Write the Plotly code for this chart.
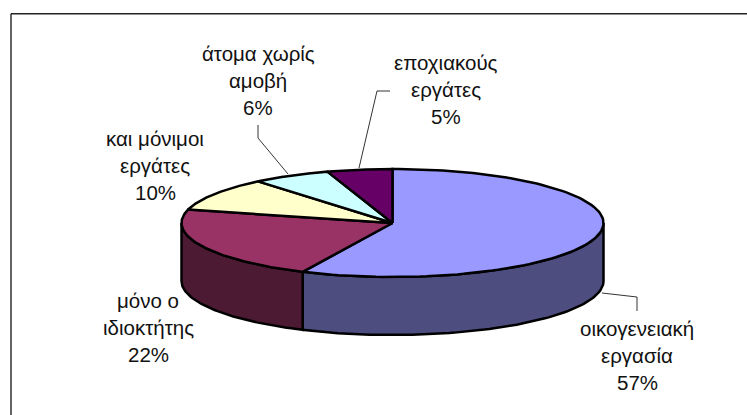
import numpy as np
import plotly.graph_objects as go

# Data
labels = [["οικογενειακή", "εργασία"], ["μόνο ο", "ιδιοκτήτης"], ["και μόνιμοι", "εργάτες"],
          ["άτομα χωρίς", "αμοβή"], ["εποχιακούς", "εργάτες"]]
values = [57, 22, 10, 6, 5]
top_colors = ["#9999FF", "#993366", "#FFFFCC", "#CCFFFF", "#660066"]
side_colors = ["#4D4D80", "#4D1A33", "#80805F", "#668080", "#330033"]

# Layout constants (pixels)
W, H = 747, 415
CX, CY, RX, RY, DEPTH = 392.5, 223, 211, 54, 58
label_x = [637, 148, 155, 258, 445.5]
label_y = [328, 300, 138, 53, 62]
LINE_GAP = 27.4
leaders = {0: ([602, 637, 637], [293, 297, 311]),
           3: ([258, 258, 288], [125, 138, 174]),
           4: ([390, 377, 359], [91, 91, 168])}

fig = go.Figure()


def ell(theta_deg, dy=0):
    t = np.radians(theta_deg)
    return CX + RX * np.sin(t), CY - RY * np.cos(t) + dy


total = sum(values)
edges = np.concatenate([[0], np.cumsum(values)]) / total * 360

# side walls (only the front half, 90..270 degrees clockwise from the top)
for i in range(len(values)):
    a, b = max(edges[i], 90), min(edges[i + 1], 270)
    if a >= b:
        continue
    th = np.linspace(a, b, 80)
    x0, y0 = ell(th)
    x1, y1 = ell(th[::-1], DEPTH)
    fig.add_trace(go.Scatter(x=np.r_[x0, x1, x0[0]], y=np.r_[y0, y1, y0[0]], mode="lines", fill="toself",
                             fillcolor=side_colors[i], line=dict(color="black", width=2.5),
                             hoverinfo="skip", showlegend=False))

# top faces
for i in range(len(values)):
    th = np.linspace(edges[i], edges[i + 1], 120)
    x0, y0 = ell(th)
    fig.add_trace(go.Scatter(x=np.r_[CX, x0, CX], y=np.r_[CY, y0, CY], mode="lines", fill="toself",
                             fillcolor=top_colors[i], line=dict(color="black", width=2.5),
                             hoverinfo="skip", showlegend=False))

# leader lines
for lx, ly in leaders.values():
    fig.add_trace(go.Scatter(x=lx, y=ly, mode="lines", line=dict(color="black", width=0.8),
                             hoverinfo="skip", showlegend=False))

# labels
annotations = []
for i, (lab, v) in enumerate(zip(labels, values)):
    lines = lab + [f"{v}%"]
    for j, t in enumerate(lines):
        annotations.append(dict(x=label_x[i], y=label_y[i] + j * LINE_GAP, text=t, showarrow=False,
                                xanchor="center", yanchor="middle",
                                font=dict(family="Liberation Sans", size=20.5, color="#111111")))

fig.update_layout(
    width=W, height=H, margin=dict(l=0, r=0, t=0, b=0), paper_bgcolor="white", plot_bgcolor="white",
    xaxis=dict(range=[0, W], visible=False, fixedrange=True),
    yaxis=dict(range=[H, 0], visible=False, fixedrange=True),
    annotations=annotations,
    shapes=[dict(type="line", x0=11, y0=13.8, x1=W, y1=13.8, line=dict(color="#222222", width=1.6), layer="below"),
            dict(type="line", x0=11, y0=13.8, x1=11, y1=H, line=dict(color="#222222", width=1.4), layer="below")],
)
fig.write_html("out.html", config={"displayModeBar": False},
               post_script="document.documentElement.style.overflow='hidden';document.body.style.margin='0';")
